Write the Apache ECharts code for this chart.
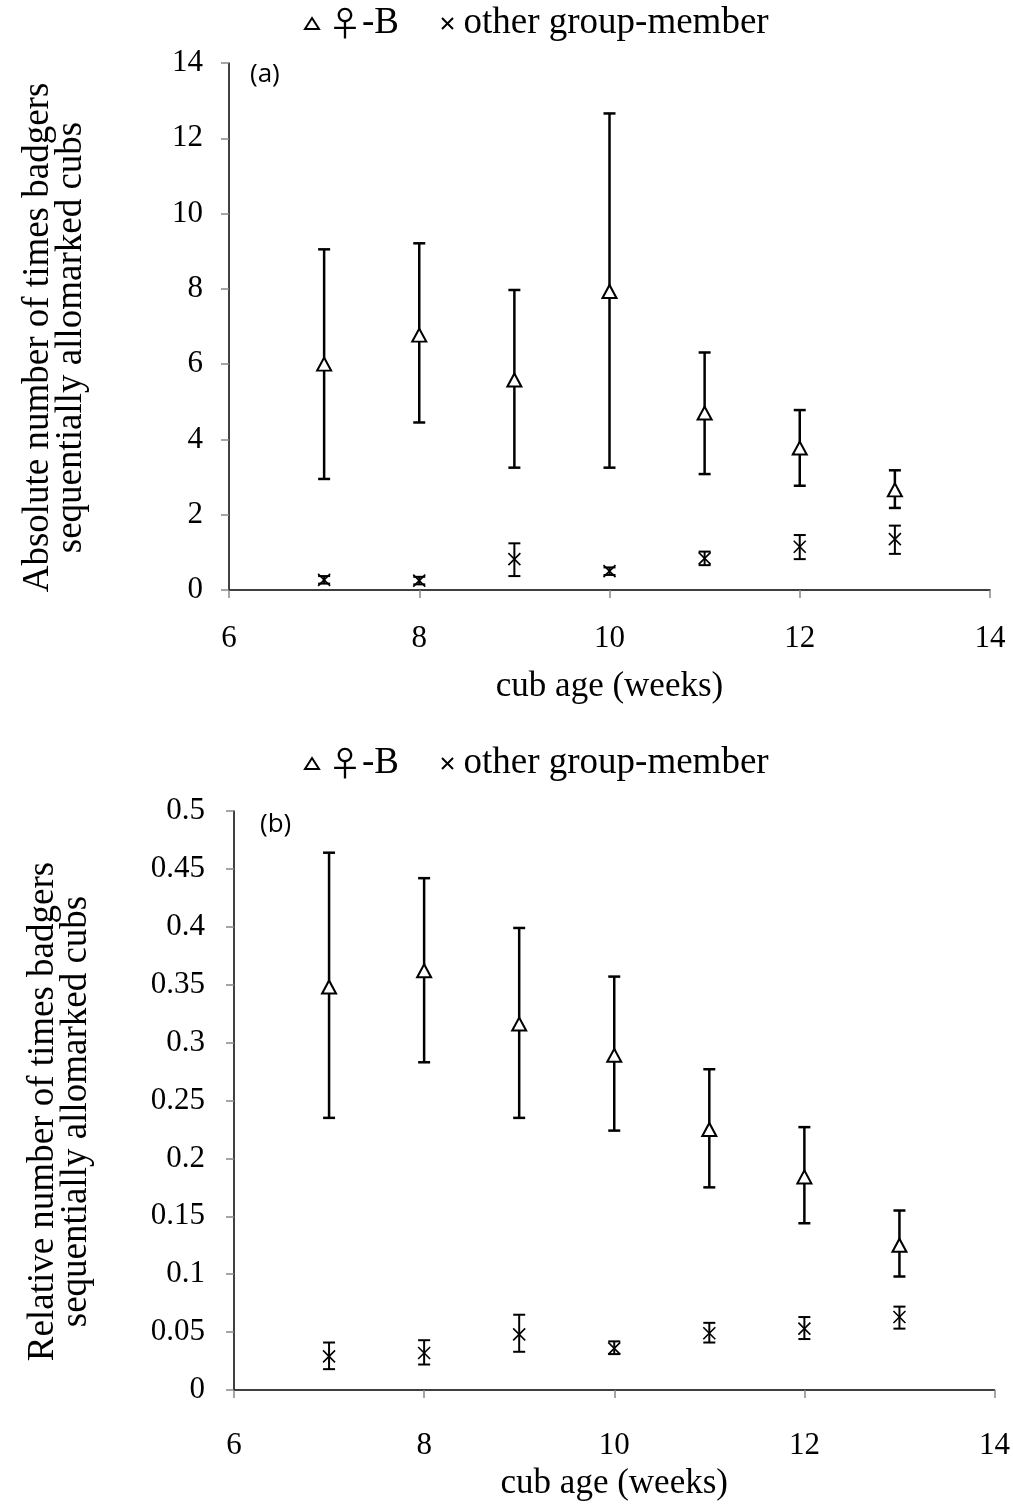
<!DOCTYPE html>
<html>
<head>
<meta charset="utf-8">
<script src="https://cdn.jsdelivr.net/npm/echarts@6/dist/echarts.min.js"></script>
<style>html,body{margin:0;padding:0;background:#fff}#c{width:1013px;height:1512px}</style>
</head>
<body>
<div id="c"></div>
<script>
var weeks = [7, 8, 9, 10, 11, 12, 13];
var xTicks = [6, 8, 10, 12, 14];

var absB = [6.0, 6.77, 5.58, 7.93, 4.70, 3.77, 2.66];
var absBLow = [2.95, 4.45, 3.25, 3.25, 3.08, 2.77, 2.18];
var absBHigh = [9.05, 9.21, 7.97, 12.66, 6.31, 4.78, 3.18];
var absO = [0.27, 0.25, 0.82, 0.50, 0.84, 1.15, 1.35];
var absOLow = [0.17, 0.15, 0.37, 0.40, 0.66, 0.82, 0.96];
var absOHigh = [0.37, 0.35, 1.24, 0.60, 1.02, 1.46, 1.71];

var relB = [0.348, 0.362, 0.316, 0.289, 0.225, 0.184, 0.125];
var relBLow = [0.235, 0.283, 0.235, 0.224, 0.175, 0.144, 0.098];
var relBHigh = [0.464, 0.442, 0.399, 0.357, 0.277, 0.227, 0.155];
var relO = [0.029, 0.032, 0.048, 0.036, 0.049, 0.053, 0.063];
var relOLow = [0.018, 0.022, 0.033, 0.031, 0.041, 0.044, 0.053];
var relOHigh = [0.041, 0.043, 0.065, 0.042, 0.058, 0.063, 0.072];

var nameB = '\u2640-B';
var nameO = 'other group-member';
var serif = '"Liberation Serif", "Times New Roman", "DejaVu Serif", serif';
var crossPath = 'path://M0,0L10,10M10,0L0,10';

function pts(xs, ys) { return xs.map(function (x, i) { return [x, ys[i]]; }); }
function errData(xs, lo, hi) { return xs.map(function (x, i) { return [x, lo[i], hi[i]]; }); }

function errSeries(gi, data, w, cap) {
  return {
    type: 'custom', xAxisIndex: gi, yAxisIndex: gi, silent: true, z: 2,
    data: data,
    renderItem: function (params, api) {
      var x = api.value(0);
      var lo = api.coord([x, api.value(1)]);
      var hi = api.coord([x, api.value(2)]);
      var st = { stroke: '#000', lineWidth: w };
      return {
        type: 'group',
        children: [
          { type: 'line', shape: { x1: lo[0], y1: lo[1], x2: hi[0], y2: hi[1] }, style: st },
          { type: 'line', shape: { x1: lo[0] - cap, y1: lo[1], x2: lo[0] + cap, y2: lo[1] }, style: st },
          { type: 'line', shape: { x1: hi[0] - cap, y1: hi[1], x2: hi[0] + cap, y2: hi[1] }, style: st }
        ]
      };
    }
  };
}

function xAxis(gi, gap, margin) {
  return {
    type: 'value', gridIndex: gi, min: 6, max: 14, interval: 2,
    name: 'cub age (weeks)', nameLocation: 'middle', nameGap: gap,
    nameTextStyle: { fontFamily: serif, fontSize: 35, color: '#000' },
    axisLine: { show: true, lineStyle: { color: '#000', width: 1.5 } },
    axisTick: { show: true, length: 8, lineStyle: { color: '#888', width: 1.5 } },
    axisLabel: { fontFamily: serif, fontSize: 31, color: '#000', margin: margin },
    splitLine: { show: false }
  };
}
function yAxis(gi, max, interval, name, margin) {
  return {
    type: 'value', gridIndex: gi, min: 0, max: max, interval: interval,
    name: name, nameLocation: 'middle', nameGap: 141,
    nameTextStyle: { fontFamily: serif, fontSize: 37, color: '#000', lineHeight: 33, padding: [0, 22, 0, 0] },
    axisLine: { show: true, lineStyle: { color: '#000', width: 1.5 } },
    axisTick: { show: true, length: 8, lineStyle: { color: '#888', width: 1.5 } },
    axisLabel: { fontFamily: serif, fontSize: 31, color: '#000', margin: margin },
    splitLine: { show: false }
  };
}
function legend(top) {
  return {
    top: top, left: 299, itemGap: 42, itemWidth: 14, itemHeight: 11,
    textStyle: {
      fontFamily: serif, fontSize: 37, color: '#000', padding: [0, 0, 0, 4],
      rich: { f: { fontFamily: '"Noto Sans CJK JP", "DejaVu Sans", sans-serif', fontSize: 34, color: '#000' } }
    },
    formatter: function (n) { return n === nameB ? '{f|\u2640}-B' : n; },
    data: [nameB, nameO]
  };
}
function triSeries(gi, data) {
  return {
    name: nameB, type: 'scatter', xAxisIndex: gi, yAxisIndex: gi, z: 3,
    symbol: 'triangle', symbolSize: [14, 13],
    itemStyle: { color: '#fff', borderColor: '#000', borderWidth: 2, opacity: 1 },
    data: data
  };
}
function crossSeries(gi, data) {
  return {
    name: nameO, type: 'scatter', xAxisIndex: gi, yAxisIndex: gi, z: 3,
    symbol: crossPath, symbolSize: [12, 12],
    itemStyle: { color: '#000', borderColor: '#000', borderWidth: 1.6, opacity: 1 },
    data: data
  };
}

var chart = echarts.init(document.getElementById('c'), null, { renderer: 'canvas' });
chart.setOption({
  backgroundColor: '#fff',
  animation: false,
  legend: [legend(0), legend(740)],
  grid: [
    { left: 229, right: 23, top: 63, height: 527 },
    { left: 234, right: 18, top: 811, height: 579 }
  ],
  xAxis: [xAxis(0, 79, 33), xAxis(1, 76, 40)],
  yAxis: [
    yAxis(0, 14, 2, 'Absolute number of times badgers\nsequentially allomarked cubs', 26),
    yAxis(1, 0.5, 0.05, 'Relative number of times badgers\nsequentially allomarked cubs', 29)
  ],
  graphic: [
    { type: 'text', left: 250, top: 62, style: { text: '(a)', font: '26px "Open Sans", "Liberation Sans", sans-serif', fill: '#000' } },
    { type: 'text', left: 260, top: 812, style: { text: '(b)', font: '26px "Open Sans", "Liberation Sans", sans-serif', fill: '#000' } }
  ],
  series: [
    errSeries(0, errData(weeks, absBLow, absBHigh), 2.5, 6),
    errSeries(0, errData(weeks, absOLow, absOHigh), 2, 6),
    triSeries(0, pts(weeks, absB)),
    crossSeries(0, pts(weeks, absO)),
    errSeries(1, errData(weeks, relBLow, relBHigh), 2.5, 6),
    errSeries(1, errData(weeks, relOLow, relOHigh), 2, 6),
    triSeries(1, pts(weeks, relB)),
    crossSeries(1, pts(weeks, relO))
  ]
});
</script>
</body>
</html>
